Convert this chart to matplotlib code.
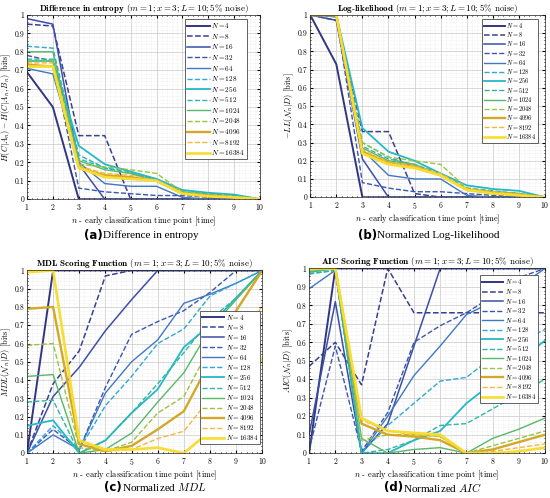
import numpy as np
import matplotlib
matplotlib.use("Agg")
import matplotlib.pyplot as plt
from matplotlib.ticker import AutoMinorLocator

plt.rcParams['font.family'] = ['cmr10', 'DejaVu Serif']
plt.rcParams['mathtext.fontset'] = 'cm'
plt.rcParams['axes.unicode_minus'] = False
plt.rcParams['axes.formatter.use_mathtext'] = True

# ---- data ----
time_points = [1, 2, 3, 4, 5, 6, 7, 8, 9, 10]
n_values = [4, 8, 16, 32, 64, 128, 256, 512, 1024, 2048, 4096, 8192, 16384]
y_ticks = [0, 0.1, 0.2, 0.3, 0.4, 0.5, 0.6, 0.7, 0.8, 0.9, 1]
y_tick_labels = ['0', '0.1', '0.2', '0.3', '0.4', '0.5', '0.6', '0.7', '0.8', '0.9', '1']

entropy_diff = [
    [0.69, 0.50, 0.00, 0.00, 0.00, 0.00, 0.00, 0.00, 0.00, 0.00],
    [0.95, 0.94, 0.345, 0.345, 0.00, 0.00, 0.00, 0.00, 0.00, 0.00],
    [0.98, 0.95, 0.19, 0.00, 0.00, 0.00, 0.00, 0.00, 0.00, 0.00],
    [0.78, 0.75, 0.06, 0.04, 0.03, 0.02, 0.02, 0.01, 0.01, 0.00],
    [0.71, 0.68, 0.20, 0.085, 0.07, 0.07, 0.01, 0.00, 0.00, 0.00],
    [0.83, 0.82, 0.24, 0.17, 0.15, 0.10, 0.03, 0.02, 0.01, 0.00],
    [0.75, 0.75, 0.29, 0.19, 0.15, 0.11, 0.05, 0.035, 0.025, 0.00],
    [0.76, 0.76, 0.22, 0.17, 0.14, 0.10, 0.04, 0.03, 0.02, 0.00],
    [0.80, 0.80, 0.21, 0.16, 0.14, 0.10, 0.04, 0.025, 0.015, 0.00],
    [0.75, 0.75, 0.19, 0.175, 0.16, 0.14, 0.04, 0.025, 0.015, 0.00],
    [0.73, 0.72, 0.17, 0.13, 0.12, 0.10, 0.03, 0.02, 0.01, 0.00],
    [0.74, 0.74, 0.18, 0.14, 0.13, 0.10, 0.035, 0.02, 0.01, 0.00],
    [0.72, 0.72, 0.17, 0.12, 0.11, 0.10, 0.03, 0.015, 0.01, 0.00],
]

log_likelihood = [
    [1.00, 0.73, 0.00, 0.00, 0.00, 0.00, 0.00, 0.00, 0.00, 0.00],
    [1.00, 0.97, 0.36, 0.36, 0.02, 0.00, 0.00, 0.00, 0.00, 0.00],
    [1.00, 0.97, 0.21, 0.00, 0.00, 0.00, 0.00, 0.00, 0.00, 0.00],
    [1.00, 0.99, 0.08, 0.05, 0.03, 0.03, 0.02, 0.01, 0.005, 0.00],
    [1.00, 0.99, 0.26, 0.12, 0.10, 0.10, 0.01, 0.00, 0.00, 0.00],
    [1.00, 1.00, 0.30, 0.22, 0.17, 0.12, 0.04, 0.03, 0.02, 0.00],
    [1.00, 1.00, 0.38, 0.25, 0.20, 0.13, 0.065, 0.045, 0.035, 0.00],
    [1.00, 1.00, 0.28, 0.21, 0.18, 0.13, 0.05, 0.035, 0.02, 0.00],
    [1.00, 1.00, 0.27, 0.20, 0.18, 0.12, 0.045, 0.03, 0.02, 0.00],
    [1.00, 1.00, 0.30, 0.22, 0.20, 0.18, 0.05, 0.03, 0.02, 0.00],
    [1.00, 1.00, 0.25, 0.19, 0.17, 0.12, 0.04, 0.025, 0.015, 0.00],
    [1.00, 1.00, 0.26, 0.19, 0.17, 0.13, 0.045, 0.03, 0.015, 0.00],
    [1.00, 1.00, 0.24, 0.18, 0.16, 0.12, 0.04, 0.02, 0.01, 0.00],
]

mdl_score = [
    [0.00, 1.00, 1.00, 1.00, 1.00, 1.00, 1.00, 1.00, 1.00, 1.00],
    [0.00, 0.38, 0.56, 0.97, 1.00, 1.00, 1.00, 1.00, 1.00, 1.00],
    [0.00, 0.31, 0.47, 0.67, 0.84, 1.00, 1.00, 1.00, 1.00, 1.00],
    [0.00, 0.13, 0.02, 0.36, 0.65, 0.72, 0.78, 0.88, 1.00, 1.00],
    [0.00, 0.10, 0.02, 0.33, 0.50, 0.62, 0.82, 0.87, 0.93, 1.00],
    [0.00, 0.15, 0.02, 0.26, 0.42, 0.60, 0.68, 0.86, 0.93, 1.00],
    [0.15, 0.18, 0.00, 0.07, 0.22, 0.35, 0.58, 0.70, 0.85, 1.00],
    [0.28, 0.29, 0.00, 0.07, 0.22, 0.38, 0.55, 0.73, 0.85, 1.00],
    [0.42, 0.43, 0.00, 0.02, 0.11, 0.28, 0.44, 0.68, 0.84, 1.00],
    [0.59, 0.60, 0.03, 0.01, 0.06, 0.22, 0.31, 0.58, 0.78, 1.00],
    [0.79, 0.80, 0.05, 0.01, 0.04, 0.13, 0.23, 0.50, 0.78, 1.00],
    [1.00, 1.00, 0.07, 0.01, 0.02, 0.08, 0.12, 0.30, 0.55, 0.81],
    [0.99, 1.00, 0.07, 0.02, 0.02, 0.03, 0.00, 0.12, 0.33, 0.52],
]

aic_score = [
    [0.00, 1.00, 1.00, 1.00, 1.00, 1.00, 1.00, 1.00, 1.00, 1.00],
    [0.47, 0.60, 0.37, 1.00, 0.76, 0.76, 0.76, 0.76, 0.76, 0.76],
    [0.10, 0.82, 0.00, 0.16, 0.58, 1.00, 1.00, 1.00, 1.00, 1.00],
    [0.02, 0.58, 0.01, 0.22, 0.60, 0.69, 0.76, 0.85, 0.95, 1.00],
    [0.89, 0.99, 0.00, 0.20, 0.42, 0.58, 0.75, 0.82, 0.90, 1.00],
    [0.97, 0.99, 0.00, 0.15, 0.27, 0.39, 0.41, 0.52, 0.60, 0.67],
    [0.98, 1.00, 0.00, 0.00, 0.07, 0.12, 0.27, 0.38, 0.50, 0.61],
    [0.97, 0.99, 0.00, 0.02, 0.07, 0.15, 0.16, 0.24, 0.32, 0.40],
    [0.98, 1.00, 0.08, 0.00, 0.02, 0.03, 0.00, 0.08, 0.13, 0.19],
    [0.99, 1.00, 0.07, 0.10, 0.10, 0.09, 0.00, 0.04, 0.08, 0.12],
    [1.00, 1.00, 0.16, 0.10, 0.09, 0.07, 0.00, 0.02, 0.06, 0.10],
    [1.00, 1.00, 0.18, 0.12, 0.10, 0.09, 0.00, 0.01, 0.03, 0.05],
    [1.00, 1.00, 0.19, 0.12, 0.11, 0.10, 0.00, 0.00, 0.01, 0.03],
]

# ---- styles ----
colors = ['#323680', '#3a3f90', '#3b4fa8', '#3b56b0', '#3f78c2', '#2ea8d8',
          '#25b8c8', '#30b89e', '#56b86a', '#9ac43c', '#d3a828', '#f5b83a',
          '#f8dc30']
widths = [1.4, 1.1, 1.1, 1.0, 1.0, 1.0, 1.3, 1.0, 1.0, 1.0, 1.7, 1.0, 1.9]

subtitle = r" ($m = 1; x = 3; L = 10; 5\%$ noise)"
panels = [
    dict(data=entropy_diff, title=r"$\mathbf{Difference\ in\ entropy}$",
         ylabel=r"$H(C|A_n) - H(C|A_n,B_n)$ [bits]",
         rect=[0.049, 0.600, 0.424, 0.370],
         leg=dict(loc='upper right', bbox=(0.944, 0.978), fs=5.2, sp=0.22)),
    dict(data=log_likelihood, title=r"$\mathbf{Log}$-$\mathbf{likelihood}$",
         ylabel=r"$-LL(\mathcal{N}_n|D)$ [bits]",
         rect=[0.564, 0.604, 0.427, 0.366],
         leg=dict(loc='upper right', bbox=(0.970, 0.978), fs=4.6, sp=0.04)),
    dict(data=mdl_score, title=r"$\mathbf{MDL\ Scoring\ Function}$",
         ylabel=r"$MDL(\mathcal{N}_n|D)$ [bits]",
         rect=[0.049, 0.090, 0.428, 0.367],
         leg=dict(loc='lower right', bbox=(0.991, 0.049), fs=5.0, sp=0.15)),
    dict(data=aic_score, title=r"$\mathbf{AIC\ Scoring\ Function}$",
         ylabel=r"$AIC(\mathcal{N}_n|D)$ [bits]",
         rect=[0.562, 0.090, 0.429, 0.371],
         leg=dict(loc='upper right', bbox=(0.970, 0.962), fs=4.8, sp=0.08)),
]

fig = plt.figure(figsize=(5.5, 4.98), dpi=100)

for p in panels:
    ax = fig.add_axes(p['rect'])
    for i, n in enumerate(n_values):
        ax.plot(time_points, p['data'][i], color=colors[i], lw=widths[i],
                ls='-' if i % 2 == 0 else '--', label=rf"$N = {n}$")
    ax.set_xlim(1, 10)
    ax.set_ylim(0, 1)
    ax.set_xticks(time_points)
    ax.set_yticks(y_ticks, y_tick_labels)
    ax.xaxis.set_minor_locator(AutoMinorLocator(5))
    ax.yaxis.set_minor_locator(AutoMinorLocator(5))
    ax.grid(True, which='major', color='#c8c8c8', lw=0.5)
    ax.grid(True, which='minor', color='#e2e2e2', lw=0.4, ls=':')
    ax.set_axisbelow(True)
    ax.tick_params(which='both', direction='in', top=True, right=True,
                   labelsize=5.5, pad=2, length=2)
    ax.tick_params(which='minor', length=1)
    for s in ax.spines.values():
        s.set_color('#262626')
        s.set_linewidth(0.5)
    ax.set_title(p['title'] + subtitle, fontsize=6.5, pad=2)
    ax.set_xlabel(r"$n$ - early classification time point [time]", fontsize=6, labelpad=1)
    ax.set_ylabel(p['ylabel'], fontsize=6, labelpad=1)
    lg = p['leg']
    leg = ax.legend(loc=lg['loc'], bbox_to_anchor=lg['bbox'], fontsize=lg['fs'],
                    labelspacing=lg['sp'], handlelength=3.2, handletextpad=0.2,
                    borderpad=0.3, fancybox=False, framealpha=1, edgecolor='#262626',
                    borderaxespad=0)
    leg.get_frame().set_linewidth(0.5)

# captions under each panel
captions = [
    (0.187, 0.528, "(a)", "Difference in entropy"),
    (0.686, 0.528, "(b)", "Normalized Log-likelihood"),
    (0.222, 0.022, "(c)", r"Normalized $MDL$"),
    (0.733, 0.022, "(d)", r"Normalized $AIC$"),
]
for x, y, tag, text in captions:
    fig.text(x, y, tag, ha='right', va='center', fontsize=8.5, fontweight='bold',
             family='DejaVu Sans')
    fig.text(x, y, text, ha='left', va='center', fontsize=8, family='Liberation Serif')

fig.savefig("out.png", dpi=100)
